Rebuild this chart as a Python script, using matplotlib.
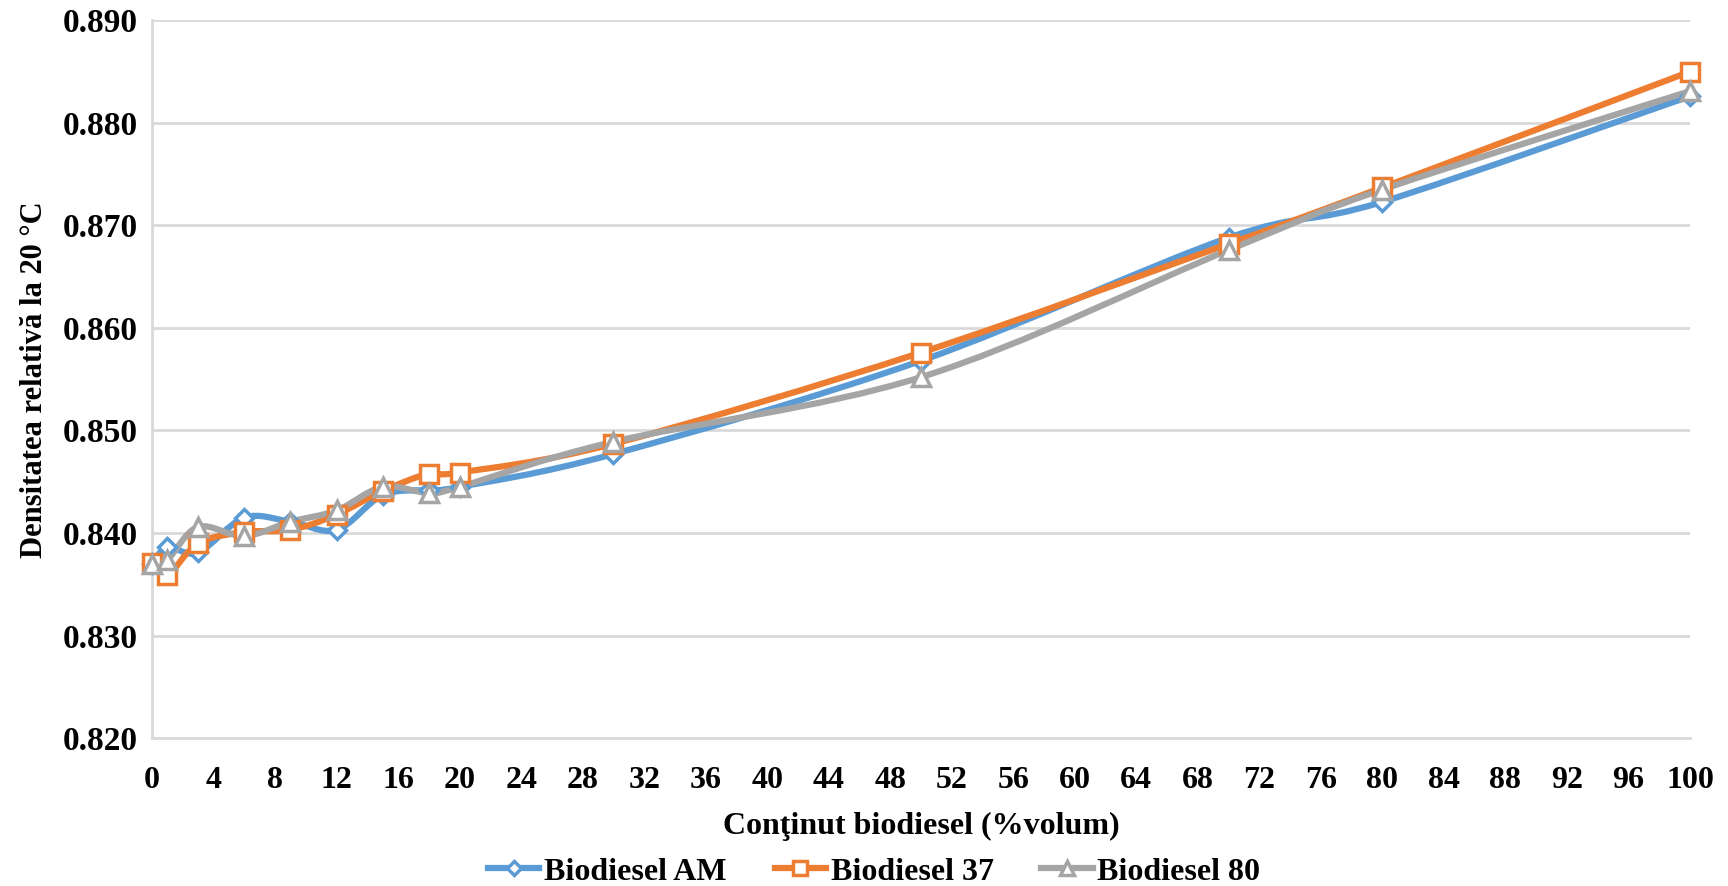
import numpy as np
import matplotlib
matplotlib.use('Agg')
import matplotlib.pyplot as plt
from matplotlib.path import Path
from matplotlib.patches import PathPatch
from matplotlib.lines import Line2D

# biodiesel content (% volume)
x = [0, 1, 3, 6, 9, 12, 15, 18, 20, 30, 50, 70, 80, 100]

# relative density at 20 C
am = [0.8370, 0.8386, 0.8381, 0.8415, 0.8411, 0.8403, 0.8437, 0.8442, 0.8445,
      0.8477, 0.8568, 0.8688, 0.8723, 0.8826]
b37 = [0.8371, 0.8359, 0.8390, 0.8401, 0.8403, 0.8418, 0.8441, 0.8458, 0.8459,
       0.8487, 0.8576, 0.8682, 0.8737, 0.8850]
b80 = [0.8370, 0.8374, 0.8406, 0.8397, 0.8411, 0.8422, 0.8445, 0.8439, 0.8445,
       0.8489, 0.8552, 0.8676, 0.8735, 0.8831]

names = ['Biodiesel AM', 'Biodiesel 37', 'Biodiesel 80']
colors = ['#5B9BD5', '#ED7D31', '#A5A5A5']
markers = ['D', 's', '^']
msizes = [9, 13, 13]

plt.rcParams['font.family'] = ['Liberation Serif', 'DejaVu Serif']
plt.rcParams['font.weight'] = 'bold'


def smooth_path(xs, ys):
    # excel-like smoothed line: catmull-rom as cubic bezier segments
    p = np.column_stack([xs, ys]).astype(float)
    n = len(p)
    verts = [p[0]]
    codes = [Path.MOVETO]
    for i in range(n - 1):
        p0 = p[i - 1] if i > 0 else p[i]
        p3 = p[i + 2] if i + 2 < n else p[i + 1]
        c1 = p[i] + (p[i + 1] - p0) / 6
        c2 = p[i + 1] - (p3 - p[i]) / 6
        verts += [c1, c2, p[i + 1]]
        codes += [Path.CURVE4] * 3
    return Path(verts, codes)


fig = plt.figure(figsize=(17.28, 8.86), dpi=100)
ax = fig.add_axes([0.088, 0.167, 0.89, 0.81])

series = [am, b37, b80]
for ys, c, m, ms in zip(series, colors, markers, msizes):
    ax.add_patch(PathPatch(smooth_path(x, ys), fill=False, edgecolor=c, lw=4.5,
                           capstyle='round', joinstyle='round', zorder=3, clip_on=False))
    ax.plot(x, ys, ls='none', marker=m, ms=ms, mfc='white', mec=c, mew=2.5,
            zorder=4, clip_on=False)

ax.set_xlim(0, 100)
ax.set_ylim(0.820, 0.890)
ax.set_xticks(np.arange(0, 101, 4))
ax.set_yticks(np.arange(0.820, 0.8901, 0.010))
ax.set_yticklabels([f'{v:.3f}' for v in np.arange(0.820, 0.8901, 0.010)])
ax.tick_params(axis='y', length=0, labelsize=24, pad=10)
ax.tick_params(axis='x', length=0, labelsize=23, pad=20)
for lab in ax.get_xticklabels() + ax.get_yticklabels():
    lab.set_fontweight('bold')

ax.grid(axis='y', color='#D9D9D9', lw=2)
for s in ['top', 'right']:
    ax.spines[s].set_visible(False)
for s in ['left', 'bottom']:
    ax.spines[s].set_color('#D9D9D9')
    ax.spines[s].set_linewidth(2)

ax.set_xlabel('Conţinut biodiesel (%volum)', fontsize=23, fontweight='bold', labelpad=12)
ax.set_ylabel('Densitatea relativă la 20 °C', fontsize=22, fontweight='bold', labelpad=10)

handles = [Line2D([], [], color=c, lw=4.5, marker=m, ms=ms * 0.8, mfc='white', mec=c, mew=2.5)
           for c, m, ms in zip(colors, markers, msizes)]
fig.legend(handles, names, loc='center', ncol=3, frameon=False,
           bbox_to_anchor=(0.506, 0.016), fontsize=23, handlelength=1.6,
           handletextpad=0.15, columnspacing=1.5, borderpad=0)

fig.savefig('out.png', dpi=100)
